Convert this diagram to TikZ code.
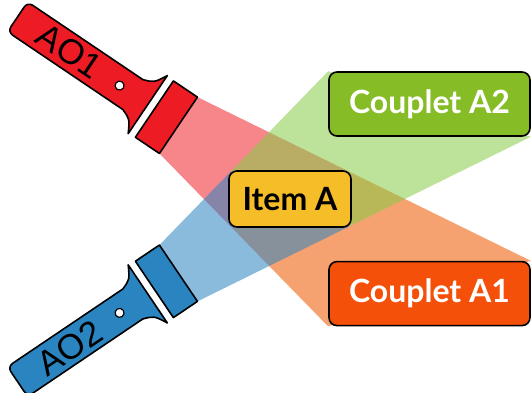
\documentclass[tikz,border=0pt]{standalone}
\usepackage{fontspec}
\setmainfont{Lato}
\newfontfamily\torchfont{Liberation Sans}
\usepackage{tikz}
\usetikzlibrary{positioning, calc}

\pgfdeclarelayer{back}
\pgfsetlayers{back,main}

\definecolor{torchred}{HTML}{ED1C24}
\definecolor{torchblue}{HTML}{2A84C0}
\definecolor{beamred}{HTML}{F7868B}
\definecolor{beamorange}{HTML}{F6A170}
\definecolor{beamgreen}{HTML}{87CC47}
\definecolor{boxgreen}{HTML}{86BC25}
\definecolor{boxorange}{HTML}{F4500A}
\definecolor{boxyellow}{HTML}{F5BD27}

\begin{document}
\begin{tikzpicture}[
    x=1pt, y=-1pt,
    box/.style={rectangle, draw, line width=1.6pt, rounded corners=8pt, align=center, inner sep=0pt, font=\bfseries\fontsize{32}{36}\selectfont},
    torch_line/.style={draw=black, line width=1.6pt, line join=round},
    label_style/.style={font=\torchfont\fontsize{35}{35}\selectfont, inner sep=0pt},
    beam_blue/.style={fill=torchblue, fill opacity=.55},
    beam_green/.style={fill=beamgreen, fill opacity=.55}
]
    \useasboundingbox (0,0) rectangle (532,392);

    % Các ô
    \node[box, fill=boxyellow, minimum width=122pt, minimum height=56pt] (ItemA) at (290,199) {Item A};
    \node[box, fill=boxgreen, text=white, minimum width=201pt, minimum height=64pt] (CoupletA2) at (429.5,104) {Couplet A2};
    \node[box, fill=boxorange, text=white, minimum width=201pt, minimum height=64pt, below=124pt of CoupletA2] (CoupletA1) {Couplet A1};

    % Đèn pin AO1
    \begin{scope}[shift={(-2.3,3.4)}, rotate=-34]
        \filldraw[torch_line, fill=torchred] (163,-18) [rounded corners=6pt] -- (24,-18) -- (24,18) [sharp corners] -- (163,18) .. controls (174,22) .. (181,35) -- (181,-35) .. controls (174,-22) .. (163,-18) -- cycle;
        \filldraw[torch_line, fill=torchred] (189,-34) rectangle (218,34);
        \filldraw[torch_line, fill=white, line width=1.2pt] (147,0) circle (4.5pt);
        \node[label_style, rotate=-34] (AO1) at (86,-1) {AO1};
        \coordinate (AO1a) at (218,-34);
        \coordinate (AO1b) at (218,34);
    \end{scope}

    % Đèn pin AO2
    \begin{scope}[shift={(-2.3,395.1)}, rotate=34, yscale=-1]
        \filldraw[torch_line, fill=torchblue] (163,-18) [rounded corners=6pt] -- (24,-18) -- (24,18) [sharp corners] -- (163,18) .. controls (174,22) .. (181,35) -- (181,-35) .. controls (174,-22) .. (163,-18) -- cycle;
        \filldraw[torch_line, fill=torchblue] (189,-34) rectangle (218,34);
        \filldraw[torch_line, fill=white, line width=1.2pt] (147,0) circle (4.5pt);
        \node[label_style, rotate=34] (AO2) at (86,-1) {AO2};
        \coordinate (AO2a) at (218,-34);
        \coordinate (AO2b) at (218,34);
    \end{scope}

    % Chùm sáng
    \begin{pgfonlayer}{back}
        \begin{scope}
            \clip ($(ItemA.south west)!-5!(ItemA.north east)$) -- ($(ItemA.south west)!6!(ItemA.north east)$) -- ++(0,-800) -- ++(-1500,0) -- cycle;
            \fill[beamred] (AO1a) -- (CoupletA1.north east) -- (CoupletA1.south west) -- (AO1b) -- cycle;
        \end{scope}
        \begin{scope}
            \clip ($(ItemA.south west)!-5!(ItemA.north east)$) -- ($(ItemA.south west)!6!(ItemA.north east)$) -- ++(0,800) -- cycle;
            \fill[beamorange] (AO1a) -- (CoupletA1.north east) -- (CoupletA1.south west) -- (AO1b) -- cycle;
        \end{scope}
        \begin{scope}
            \clip ($(ItemA.north west)!-5!(ItemA.south east)$) -- ($(ItemA.north west)!6!(ItemA.south east)$) -- ++(0,800) -- ++(-1500,0) -- cycle;
            \fill[beam_blue] (AO2b) -- (CoupletA2.north west) -- (CoupletA2.south east) -- (AO2a) -- cycle;
        \end{scope}
        \begin{scope}
            \clip ($(ItemA.north west)!-5!(ItemA.south east)$) -- ($(ItemA.north west)!6!(ItemA.south east)$) -- ++(0,-800) -- cycle;
            \fill[beam_green] (AO2b) -- (CoupletA2.north west) -- (CoupletA2.south east) -- (AO2a) -- cycle;
        \end{scope}
    \end{pgfonlayer}
\end{tikzpicture}
\end{document}
